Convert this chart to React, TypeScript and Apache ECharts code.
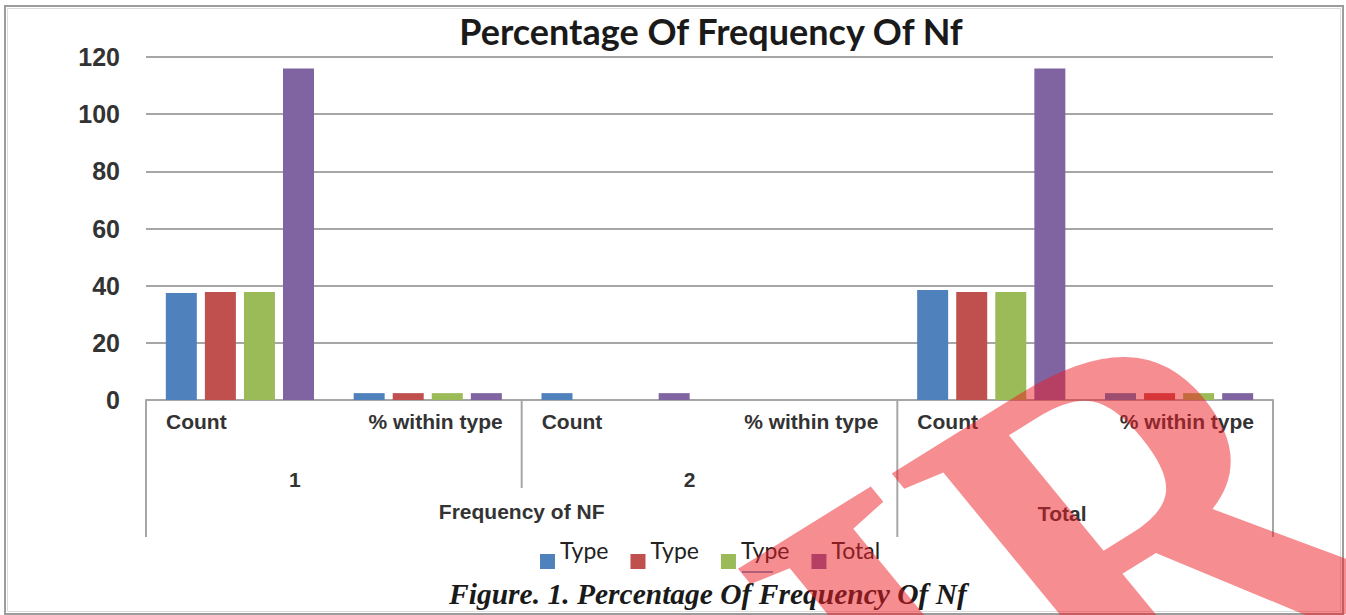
import React, { useEffect, useRef } from 'react';
import * as echarts from 'echarts';

// ---- data ----
const categories = ['Count', '% within type', 'Count', '% within type', 'Count', '% within type'];
const groupLabels = ['1', '2'];
const outerLabels = ['Frequency of NF', 'Total'];
const seriesNames = ['Type1', 'Type2', 'Type3', 'Total'];
const type1Values = [37.4, 2.4, 2.4, 0, 38.5, 2.4];
const type2Values = [37.8, 2.4, 0, 0, 37.8, 2.4];
const type3Values = [37.8, 2.4, 0, 0, 37.8, 2.4];
const totalValues = [116, 2.4, 2.4, 0, 116, 2.4];
const yMin = 0;
const yMax = 120;
const yStep = 20;

const colors = ['#4f81bd', '#c0504d', '#9bbb59', '#8064a2'];
const titleText = 'Percentage Of Frequency Of Nf';
const captionText = 'Figure. 1. Percentage Of Frequency Of Nf';
const watermarkText = 'IR';

const GRID_LEFT = 146;
const GRID_RIGHT = 73;
const GRID_TOP = 57;
const GRID_BOTTOM = 215;
const LINE_COLOR = '#a6a6a6';
const LABEL_FONT = 'bold 21px "Liberation Sans", Arial, sans-serif';
const LABEL_COLOR = '#333333';
// legend square sits low beside its label
const LEGEND_ICON = 'path://M0,0 M0,24 L15,24 L15,39 L0,39 Z';

export default function App() {
  const ref = useRef<HTMLDivElement>(null);

  useEffect(() => {
    if (!ref.current) return;
    const chart = echarts.init(ref.current, null, { renderer: 'svg' });
    const values = [type1Values, type2Values, type3Values, totalValues];

    chart.setOption({
      animation: false,
      backgroundColor: '#ffffff',
      title: {
        text: titleText,
        left: 706,
        top: 8,
        textAlign: 'center',
        textStyle: {
          fontFamily: 'Lato',
          fontWeight: 'bold',
          fontSize: 36,
          color: '#1a1a1a',
        },
      },
      legend: {
        left: 540,
        top: 530,
        padding: 0,
        itemWidth: 15,
        itemHeight: 39,
        itemGap: 22,
        icon: LEGEND_ICON,
        formatter: (name: string) => (name.startsWith('Type') ? 'Type' : name),
        textStyle: {
          fontFamily: 'Lato',
          fontSize: 23,
          color: '#222222',
        },
        data: seriesNames,
      },
      grid: {
        left: GRID_LEFT,
        right: GRID_RIGHT,
        top: GRID_TOP,
        bottom: GRID_BOTTOM,
        containLabel: false,
      },
      xAxis: {
        type: 'category',
        data: categories,
        axisLine: { show: true, lineStyle: { color: LINE_COLOR, width: 2 } },
        axisTick: { show: false },
        axisLabel: { show: false },
        splitLine: { show: false },
      },
      yAxis: {
        type: 'value',
        min: yMin,
        max: yMax,
        interval: yStep,
        axisLine: { show: false },
        axisTick: { show: false },
        axisLabel: {
          margin: 26,
          fontFamily: '"Liberation Sans", Arial, sans-serif',
          fontWeight: 'bold',
          fontSize: 25,
          color: LABEL_COLOR,
        },
        splitLine: { show: true, lineStyle: { color: LINE_COLOR, width: 2 } },
      },
      series: seriesNames.map((name, i) => ({
        name,
        type: 'bar',
        data: values[i],
        barWidth: 31,
        barGap: '26%',
        itemStyle: { color: colors[i] },
      })),
    });

    // positions from the axes
    const c0 = chart.convertToPixel({ xAxisIndex: 0 }, 0) as number;
    const c1 = chart.convertToPixel({ xAxisIndex: 0 }, 1) as number;
    const bw = c1 - c0;
    const start = (i: number) => c0 - bw / 2 + i * bw;
    const y0 = chart.convertToPixel({ yAxisIndex: 0 }, 0) as number;

    const graphics: any[] = [];
    const vline = (x: number, y2: number) => ({
      type: 'line',
      shape: { x1: x, y1: y0, x2: x, y2 },
      style: { stroke: LINE_COLOR, lineWidth: 2 },
      silent: true,
    });
    graphics.push(vline(start(0), y0 + 137));
    graphics.push(vline(start(2), y0 + 88));
    graphics.push(vline(start(4), y0 + 137));
    graphics.push(vline(start(6), y0 + 137));

    categories.forEach((label, i) => {
      const left = i % 2 === 0;
      graphics.push({
        type: 'text',
        x: left ? start(i) + 20 : start(i + 1) - 19,
        y: y0 + 21,
        style: {
          text: label,
          font: LABEL_FONT,
          fill: LABEL_COLOR,
          textAlign: left ? 'left' : 'right',
          textVerticalAlign: 'middle',
        },
      });
    });
    const groupOffsets = [-39, -20];
    groupLabels.forEach((label, g) => {
      const center = (start(g * 2) + start(g * 2 + 2)) / 2;
      graphics.push({
        type: 'text',
        x: center + groupOffsets[g],
        y: y0 + 79,
        style: { text: label, font: LABEL_FONT, fill: LABEL_COLOR, textAlign: 'center', textVerticalAlign: 'middle' },
      });
    });
    graphics.push({
      type: 'text',
      x: (start(0) + start(4)) / 2,
      y: y0 + 111,
      style: { text: outerLabels[0], font: LABEL_FONT, fill: LABEL_COLOR, textAlign: 'center', textVerticalAlign: 'middle' },
    });
    graphics.push({
      type: 'text',
      x: (start(4) + start(6)) / 2 - 23,
      y: y0 + 113,
      style: { text: outerLabels[1], font: LABEL_FONT, fill: LABEL_COLOR, textAlign: 'center', textVerticalAlign: 'middle' },
    });

    // small underline under the third legend label
    graphics.push({
      type: 'line',
      shape: { x1: 742, y1: 572, x2: 773, y2: 572 },
      style: { stroke: '#4f81bd', lineWidth: 1.5 },
      silent: true,
    });

    // caption
    graphics.push({
      type: 'text',
      x: 708,
      y: 594,
      style: {
        text: captionText,
        font: 'italic bold 29.5px "Liberation Serif", "Times New Roman", serif',
        fill: '#1a1a1a',
        textAlign: 'center',
        textVerticalAlign: 'middle',
      },
    });

    // frame
    graphics.push({
      type: 'rect',
      shape: { x: 5, y: 6, width: 1338, height: 608 },
      style: { fill: 'none', stroke: '#9c9c9c', lineWidth: 2 },
      silent: true,
    });
    graphics.push({
      type: 'rect',
      shape: { x: 7.5, y: 8.5, width: 1333, height: 603 },
      style: { fill: 'none', stroke: '#dcdcdc', lineWidth: 1 },
      silent: true,
    });

    // watermark (rotated serif letters, slightly stretched horizontally)
    graphics.push({
      type: 'group',
      scaleX: 1.15,
      scaleY: 1,
      z: 100,
      silent: true,
      children: [
        {
          type: 'text',
          x: 574,
          y: 499.5,
          rotation: (35.5 * Math.PI) / 180,
          scaleX: 0.84,
          scaleY: 1,
          z: 100,
          silent: true,
          style: {
            text: watermarkText,
            font: 'bold 525px "Liberation Serif", "Times New Roman", serif',
            fill: 'rgba(236,28,36,0.5)',
            textAlign: 'left',
            textVerticalAlign: 'top',
          },
        },
      ],
    });

    chart.setOption({ graphic: graphics });

    return () => chart.dispose();
  }, []);

  return (
    <div
      ref={ref}
      style={{ position: 'absolute', left: 0, top: 0, width: 1346, height: 615 }}
    />
  );
}
